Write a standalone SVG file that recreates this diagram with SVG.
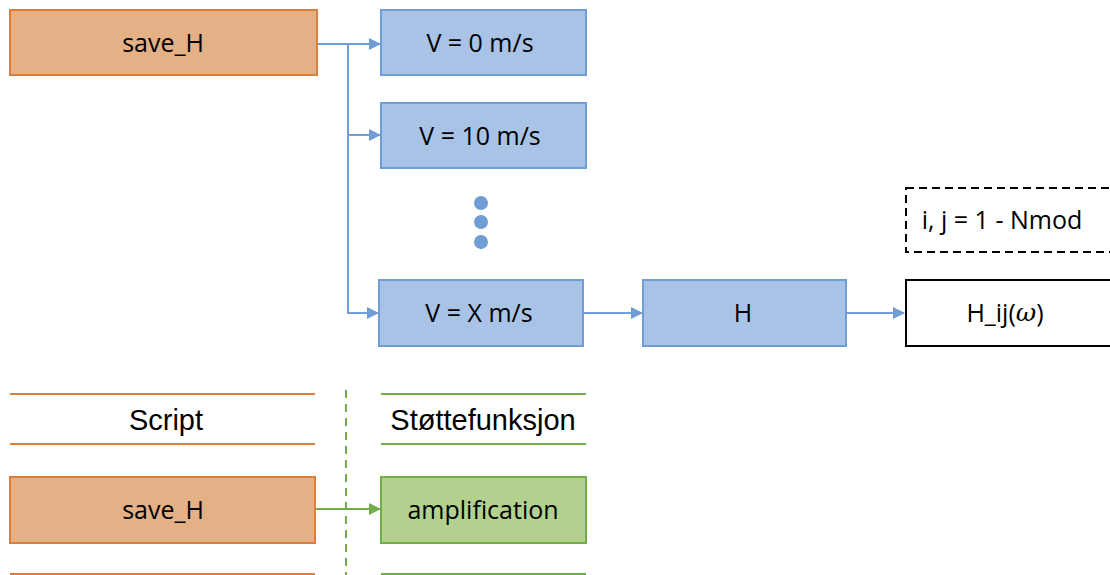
<svg xmlns="http://www.w3.org/2000/svg" width="1110" height="575" viewBox="0 0 1110 575">
<style>
.or{fill:#E4B085;stroke:#DD7F3C;stroke-width:2}
.bl{fill:#A8C3E6;stroke:#719DD6;stroke-width:2}
.gr{fill:#B3D08F;stroke:#72AD4A;stroke-width:2}
.t{font-family:"Open Sans","Liberation Sans",sans-serif;font-size:25px;fill:#000;text-anchor:middle;dominant-baseline:central}
.t2{font-family:"Liberation Sans",Arial,sans-serif;font-size:29px;fill:#000;text-anchor:middle;dominant-baseline:central}
.cb{stroke:#719DD6;stroke-width:2;fill:none}
.cg{stroke:#72AD4A;stroke-width:2;fill:none}
</style>
<defs>
<marker id="ab" markerWidth="12" markerHeight="12" refX="11" refY="6" orient="auto" markerUnits="userSpaceOnUse"><path d="M0,0 L12,6 L0,12 z" fill="#719DD6"/></marker>
<marker id="ag" markerWidth="12" markerHeight="12" refX="11" refY="6" orient="auto" markerUnits="userSpaceOnUse"><path d="M0,0 L12,6 L0,12 z" fill="#72AD4A"/></marker>
</defs>
<rect width="1110" height="575" fill="#fff"/>
<g id="connectors">
<path class="cb" d="M317,44 H380" marker-end="url(#ab)"/>
<path class="cb" d="M348,44 V313 H378" marker-end="url(#ab)"/>
<path class="cb" d="M348,135 H380" marker-end="url(#ab)"/>
<path class="cb" d="M583,313 H642" marker-end="url(#ab)"/>
<path class="cb" d="M846,313 H904" marker-end="url(#ab)"/>
<path class="cg" d="M315,509 H380" marker-end="url(#ag)"/>
</g>
<g id="save_H_top"><rect class="or" x="10" y="10" width="307" height="65"/><text class="t" x="163" y="42">save_H</text></g>
<g id="v0"><rect class="bl" x="381" y="10" width="205" height="65"/><text class="t" x="480" y="42">V = 0 m/s</text></g>
<g id="v10"><rect class="bl" x="381" y="103" width="205" height="65"/><text class="t" x="480" y="135">V = 10 m/s</text></g>
<g id="dots" fill="#719DD6"><circle cx="481" cy="203" r="7"/><circle cx="481" cy="222" r="7"/><circle cx="481" cy="242" r="7"/></g>
<g id="vx"><rect class="bl" x="379" y="280" width="204" height="66"/><text class="t" x="479" y="312">V = X m/s</text></g>
<g id="H"><rect class="bl" x="643" y="280" width="203" height="66"/><text class="t" x="743" y="312">H</text></g>
<g id="nmod"><rect x="906" y="188" width="210" height="64" fill="none" stroke="#000" stroke-width="2" stroke-dasharray="8,5"/><text class="t" x="1002" y="219">i, j = 1 - Nmod</text></g>
<g id="Hij"><rect x="906" y="280" width="210" height="66" fill="#fff" stroke="#000" stroke-width="2"/><text class="t" x="1005" y="312">H_ij(<tspan font-family="'DejaVu Serif',serif" font-style="italic">ω</tspan>)</text></g>
<g id="legend">
<line x1="10" y1="394" x2="315" y2="394" stroke="#DD7F3C" stroke-width="2"/>
<line x1="10" y1="444" x2="315" y2="444" stroke="#DD7F3C" stroke-width="2"/>
<line x1="10" y1="574" x2="315" y2="574" stroke="#DD7F3C" stroke-width="2"/>
<line x1="381" y1="394" x2="586" y2="394" stroke="#72AD4A" stroke-width="2"/>
<line x1="381" y1="444" x2="586" y2="444" stroke="#72AD4A" stroke-width="2"/>
<line x1="381" y1="574" x2="586" y2="574" stroke="#72AD4A" stroke-width="2"/>
<line x1="346" y1="390" x2="346" y2="575" stroke="#72AD4A" stroke-width="2" stroke-dasharray="8,6"/>
<text class="t2" x="166" y="420">Script</text>
<text class="t2" x="483" y="420">Støttefunksjon</text>
</g>
<g id="save_H_bottom"><rect class="or" x="10" y="477" width="305" height="66"/><text class="t" x="163" y="509">save_H</text></g>
<g id="amplification"><rect class="gr" x="381" y="477" width="205" height="66"/><text class="t" x="483" y="509">amplification</text></g>
</svg>
